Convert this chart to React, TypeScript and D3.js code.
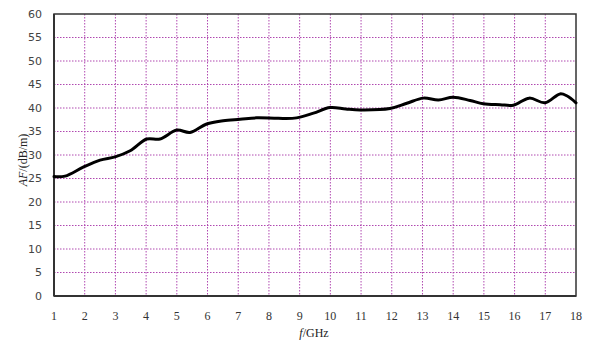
import React from "react";
import * as d3 from "d3";

const freqGHz = [1, 1.36, 1.95, 2.5, 2.99, 3.48, 4.02, 4.45, 5.0, 5.43, 5.97, 6.51, 7.06, 7.6, 8.3, 8.9, 9.45, 9.99, 10.5, 10.97, 11.94, 12.49, 13.03, 13.52, 14.0, 14.55, 14.98, 15.53, 15.96, 16.48, 16.99, 17.48, 17.7, 18];
const afValues = [25.4, 25.5, 27.4, 28.9, 29.6, 30.9, 33.4, 33.4, 35.3, 34.8, 36.6, 37.3, 37.6, 37.9, 37.8, 37.9, 38.9, 40.1, 39.8, 39.6, 39.9, 41.0, 42.1, 41.7, 42.3, 41.6, 40.9, 40.7, 40.6, 42.1, 41.1, 43.0, 42.6, 41.1];
const xTicks = d3.range(1, 19);
const yTicks = d3.range(0, 61, 5);

export default function App() {
  const W = 600, H = 345;
  const left = 54, right = 576, top = 14, bottom = 296;
  const x = d3.scaleLinear().domain([1, 18]).range([left, right]);
  const y = d3.scaleLinear().domain([0, 60]).range([bottom, top]);
  const pts: [number, number][] = freqGHz.map((f, i) => [f, afValues[i]]);
  const line = d3.line<[number, number]>().x(d => x(d[0])).y(d => y(d[1])).curve(d3.curveCatmullRom.alpha(0.5));
  const grid = "#b048b0";
  return (
    <svg width={W} height={H} style={{ position: "absolute", left: 0, top: 0, background: "#fff" }}>
      <rect x={0} y={0} width={W} height={H} fill="#fff" />
      {xTicks.slice(1, -1).map(t => (
        <line key={"gx" + t} x1={x(t)} x2={x(t)} y1={top} y2={bottom} stroke={grid} strokeWidth={1} strokeDasharray="1.5,1.5" />
      ))}
      {yTicks.slice(1, -1).map(t => (
        <line key={"gy" + t} x1={left} x2={right} y1={y(t)} y2={y(t)} stroke={grid} strokeWidth={1} strokeDasharray="1.5,1.5" />
      ))}
      <rect x={left} y={top} width={right - left} height={bottom - top} fill="none" stroke="#333" strokeWidth={1.5} />
      <line x1={left} x2={left} y1={top} y2={bottom} stroke="#333" strokeWidth={2} />
      <line x1={left} x2={right} y1={bottom} y2={bottom} stroke="#333" strokeWidth={2} />
      <path d={line(pts) || ""} fill="none" stroke="#000" strokeWidth={3} strokeLinejoin="round" strokeLinecap="round" />
      {yTicks.map(t => (
        <text key={"ty" + t} x={42} y={y(t)} dy="0.35em" textAnchor="end" fontFamily="DejaVu Sans, Verdana, sans-serif" fontSize={11} fill="#444">{t}</text>
      ))}
      {xTicks.map(t => (
        <text key={"tx" + t} x={x(t)} y={320} textAnchor="middle" fontFamily="Liberation Serif, Times New Roman, serif" fontSize={12} fill="#333">{t}</text>
      ))}
      <text x={314} y={337} textAnchor="middle" fontFamily="Liberation Serif, Times New Roman, serif" fontSize={12} fill="#222">
        <tspan fontStyle="italic">f</tspan>/GHz
      </text>
      <text transform={`translate(27,160) rotate(-90)`} textAnchor="middle" fontFamily="Liberation Serif, Times New Roman, serif" fontSize={12} fill="#222">
        <tspan fontStyle="italic">AF</tspan>/(dB/m)
      </text>
    </svg>
  );
}
